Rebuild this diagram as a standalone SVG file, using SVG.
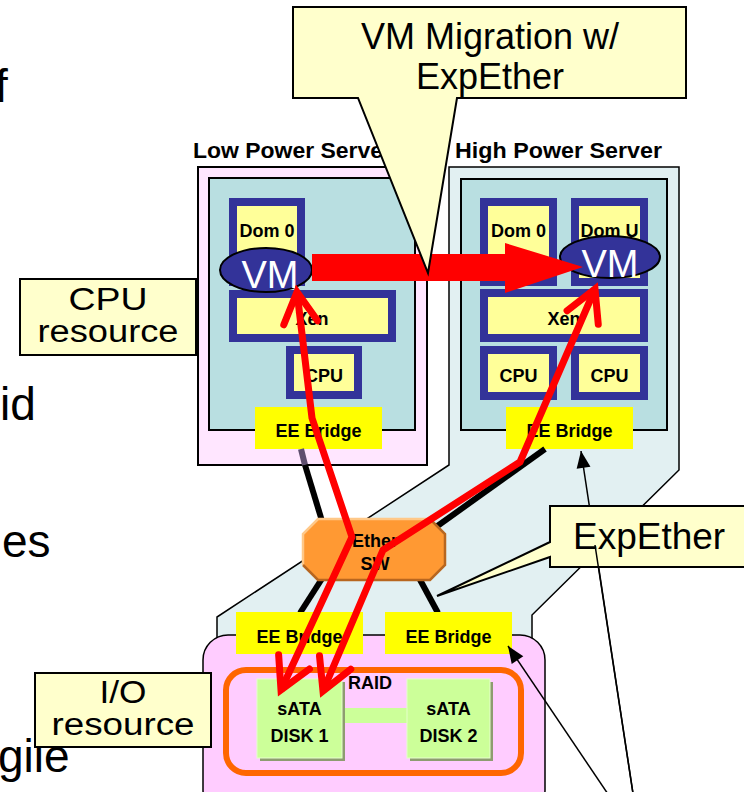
<svg xmlns="http://www.w3.org/2000/svg" width="744" height="792" viewBox="0 0 744 792">
<style>
  .bg { font-family: "Liberation Sans", Arial, sans-serif; font-size: 46px; fill: #000; }
  .lbl { font-family: "Liberation Sans", Arial, sans-serif; font-weight: bold; font-size: 18px; fill: #000; text-anchor: middle; }
  .title { font-family: "Liberation Sans", Arial, sans-serif; font-weight: bold; font-size: 22px; fill: #000; }
  .call { font-family: "Liberation Sans", Arial, sans-serif; font-size: 36px; fill: #000; text-anchor: middle; }
  .res { font-family: "Liberation Sans", Arial, sans-serif; font-size: 31px; fill: #000; text-anchor: middle; }
  .vm { font-family: "Liberation Sans", Arial, sans-serif; font-size: 38px; fill: #fff; text-anchor: middle; }
  .frame { fill: #FFFF99; stroke: #333399; stroke-width: 8; }
  .eeb { fill: #FFFF00; }
  .cable { stroke: #000; stroke-width: 6; fill: none; }
  .redline { stroke: #FF0000; stroke-width: 7; fill: none; stroke-linejoin: round; marker-start: url(#redHead); marker-end: url(#redHead); }
  .thin { stroke: #000; stroke-width: 1.5; fill: none; marker-end: url(#blackHead); }
  .callout { fill: #FFFFCC; stroke: #000; stroke-width: 2; }
</style>
<defs>
  <marker id="redHead" markerUnits="userSpaceOnUse" viewBox="-40 -25 50 50" refX="0" refY="0" markerWidth="50" markerHeight="50" orient="auto-start-reverse" overflow="visible">
    <path d="M-31,-17 L0,0 L-31,17" fill="none" stroke="#FF0000" stroke-width="7" stroke-linejoin="miter" stroke-linecap="round"/>
  </marker>
  <marker id="blackHead" markerUnits="userSpaceOnUse" viewBox="-20 -10 25 20" refX="0" refY="0" markerWidth="25" markerHeight="20" orient="auto" overflow="visible">
    <path d="M0,0 L-17,-7 L-17,7 Z" fill="#000"/>
  </marker>
</defs>

<!-- partial slide text at left edge -->
<g id="slide-text">
  <text class="bg" x="-5" y="102">f</text>
  <text class="bg" x="0" y="420">id</text>
  <text class="bg" x="2" y="557">es</text>
  <text class="bg" x="-2" y="772">gile</text>
</g>

<!-- High Power Server enclosure (light blue, extends to I/O chassis) -->
<g id="high-power-server">
  <polygon points="449,167 679,167 679,470 532,615 532,660 217,660 217,617 449,465" fill="#E2F0F2" stroke="#000" stroke-width="1.5"/>
  <rect x="461" y="179" width="206" height="251" fill="#B9DFE1" stroke="#000" stroke-width="2"/>
  <text class="title" x="455" y="158" textLength="207" lengthAdjust="spacingAndGlyphs">High Power Server</text>
</g>

<!-- Low Power Server -->
<g id="low-power-server">
  <rect x="198" y="167" width="229" height="298" fill="#FFE6FF" stroke="#000" stroke-width="2"/>
  <rect x="209" y="178" width="206" height="252" fill="#B9DFE1" stroke="#000" stroke-width="2"/>
  <text class="title" x="193" y="158" textLength="199" lengthAdjust="spacingAndGlyphs">Low Power Server</text>
</g>

<!-- LPS components -->
<g id="lps-dom0">
  <rect class="frame" x="233" y="202" width="68" height="80"/>
  <text class="lbl" x="267" y="237">Dom 0</text>
</g>
<g id="lps-xen">
  <rect class="frame" x="233" y="294" width="159" height="44"/>
  <text class="lbl" x="312" y="325">Xen</text>
</g>
<g id="lps-cpu">
  <rect class="frame" x="290" y="350" width="68" height="45"/>
  <text class="lbl" x="324" y="382">CPU</text>
</g>
<g id="lps-ee-bridge">
  <rect class="eeb" x="255" y="407" width="127" height="42"/>
  <text class="lbl" x="318.5" y="437">EE Bridge</text>
</g>
<g id="lps-vm">
  <ellipse cx="266" cy="270" rx="46" ry="22" fill="#333399" stroke="#000" stroke-width="2"/>
  <text class="vm" x="270" y="288">VM</text>
</g>

<!-- HPS components -->
<g id="hps-dom0">
  <rect class="frame" x="484" y="202" width="69" height="80"/>
  <text class="lbl" x="518.5" y="237">Dom 0</text>
</g>
<g id="hps-domu">
  <rect class="frame" x="575" y="202" width="69" height="80"/>
  <text class="lbl" x="609.5" y="237">Dom U</text>
</g>
<g id="hps-xen">
  <rect class="frame" x="484" y="293" width="160" height="45"/>
  <text class="lbl" x="564" y="325">Xen</text>
</g>
<g id="hps-cpu1">
  <rect class="frame" x="484" y="350" width="69" height="46"/>
  <text class="lbl" x="518.5" y="382">CPU</text>
</g>
<g id="hps-cpu2">
  <rect class="frame" x="575" y="350" width="69" height="46"/>
  <text class="lbl" x="609.5" y="382">CPU</text>
</g>
<g id="hps-ee-bridge">
  <rect class="eeb" x="506" y="407" width="127" height="42"/>
  <text class="lbl" x="569.5" y="437">EE Bridge</text>
</g>
<g id="hps-vm">
  <ellipse cx="610" cy="257" rx="50" ry="21" fill="#333399" stroke="#000" stroke-width="2"/>
  <text class="vm" x="610" y="277">VM</text>
</g>

<!-- cables -->
<g id="cables">
  <line x1="301" y1="449" x2="305" y2="465" stroke="#5E4E6E" stroke-width="6"/>
  <line class="cable" x1="305" y1="465" x2="322" y2="521"/>
  <line class="cable" x1="545" y1="449" x2="436" y2="527"/>
  <line class="cable" x1="325" y1="574" x2="300" y2="613"/>
  <line class="cable" x1="418" y1="576" x2="438" y2="613"/>
</g>

<!-- Ether switch -->
<g id="ether-sw">
  <polygon points="318,519 430,519 445,534 445,565 430,580 318,580 303,565 303,534" fill="#FF9933"/>
  <polyline points="303,565 303,534 318,519 430,519" fill="none" stroke="#FFC888" stroke-width="2.5"/>
  <polyline points="430,519 445,534 445,565 430,580 318,580 303,565" fill="none" stroke="#B8661F" stroke-width="2.5"/>
  <text class="lbl" x="375" y="547">Ether</text>
  <text class="lbl" x="375" y="570">SW</text>
</g>

<!-- I/O chassis -->
<g id="io-chassis">
  <rect x="203" y="635" width="342" height="180" rx="25" ry="25" fill="#FFCCFF" stroke="#000" stroke-width="1.5"/>
</g>
<g id="io-ee-bridge-1">
  <rect class="eeb" x="236" y="612" width="127" height="42"/>
  <text class="lbl" x="299.5" y="643">EE Bridge</text>
</g>
<g id="io-ee-bridge-2">
  <rect class="eeb" x="385" y="612" width="127" height="42"/>
  <text class="lbl" x="448.5" y="643">EE Bridge</text>
</g>
<g id="raid">
  <rect x="226" y="670" width="295" height="103" rx="20" ry="20" fill="none" stroke="#FF6600" stroke-width="6"/>
  <rect x="342" y="708" width="65" height="15" fill="#CCFF99"/>
  <text class="lbl" x="370" y="689">RAID</text>
</g>
<g id="disk1">
  <rect x="260" y="682" width="85" height="79" fill="#8E9C70"/>
  <rect x="257" y="679" width="85" height="79" fill="#CCFF99" stroke="#E6FFCC" stroke-width="1"/>
  <text class="lbl" x="299.5" y="715">sATA</text>
  <text class="lbl" x="299.5" y="742">DISK 1</text>
</g>
<g id="disk2">
  <rect x="410" y="682" width="83" height="79" fill="#8E9C70"/>
  <rect x="407" y="679" width="83" height="79" fill="#CCFF99" stroke="#E6FFCC" stroke-width="1"/>
  <text class="lbl" x="448.5" y="715">sATA</text>
  <text class="lbl" x="448.5" y="742">DISK 2</text>
</g>

<!-- connectors: migration arrow and I/O paths -->
<g id="connectors">
  <polygon points="312,254 505,254 505,243 583,267 505,293 505,281 312,281" fill="#FF0000"/>
  <polyline class="redline" points="297,292 312,418 352,537 281,690"/>
  <polyline class="redline" points="595,289 520,462 383,550 323,691"/>
  <line class="thin" x1="612" y1="800" x2="508" y2="646"/>
  <line class="thin" x1="634" y1="800" x2="581" y2="451"/>
</g>

<!-- callouts -->
<g id="callout-migration">
  <polygon class="callout" points="293,7 686,7 686,98 457,98 428,273 358,98 293,98"/>
  <text class="call" x="490" y="49">VM Migration w/</text>
  <text class="call" x="490" y="89">ExpEther</text>
</g>
<g id="callout-expether">
  <polygon class="callout" points="550,506 760,506 760,567 550,567 550,557 437,596 550,542"/>
  <text class="call" x="573" y="549" style="text-anchor:start;font-size:37px">ExpEther</text>
</g>
<g id="cpu-resource">
  <rect x="20" y="279" width="176" height="76" fill="#FFFFCC" stroke="#000" stroke-width="2"/>
  <text class="res" x="108" y="310" textLength="79" lengthAdjust="spacingAndGlyphs">CPU</text>
  <text class="res" x="108" y="342" textLength="141" lengthAdjust="spacingAndGlyphs">resource</text>
</g>
<g id="io-resource">
  <rect x="35" y="673" width="176" height="74" fill="#FFFFCC" stroke="#000" stroke-width="2"/>
  <text class="res" x="123" y="703" textLength="47" lengthAdjust="spacingAndGlyphs">I/O</text>
  <text class="res" x="123" y="735" textLength="143" lengthAdjust="spacingAndGlyphs">resource</text>
</g>

<!-- thin pointer lines drawn over the ExpEther callout -->
<g id="pointer-overlay">
  <line x1="634" y1="800" x2="595" y2="545" stroke="#000" stroke-width="1.5"/>
</g>
</svg>
